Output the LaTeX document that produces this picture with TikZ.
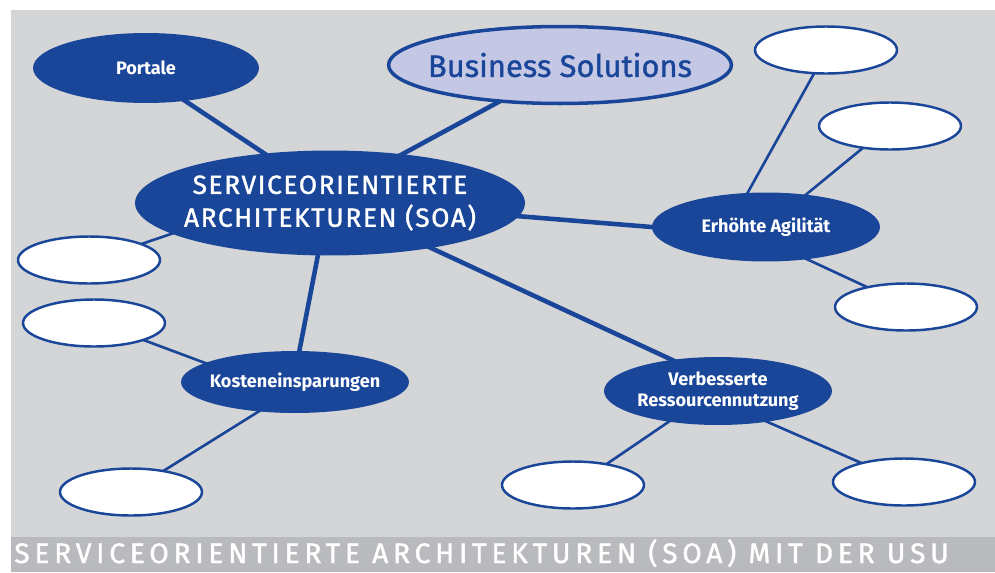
\documentclass[tikz,border=0pt]{standalone}
\usepackage{fontspec}
\setmainfont{Fira Sans}[Ligatures=NoCommon]
\usetikzlibrary{shapes.geometric}

\definecolor{usublue}{RGB}{26,70,153}
\definecolor{usulilac}{RGB}{197,200,228}
\definecolor{usugray}{RGB}{212,213,215}
\definecolor{usubar}{RGB}{185,186,189}

\pgfdeclarelayer{background}
\pgfsetlayers{background,main}

\tikzset{
  topic/.style={ellipse, fill=usublue, text=white, inner xsep=-8pt, inner ysep=0pt, align=center,
    font=\bfseries\fontsize{10.3}{11.6}\selectfont},
  blank/.style={ellipse, draw=usublue, line width=1.4pt, fill=white, inner sep=0pt,
    minimum width=2.84cm, minimum height=0.94cm},
  thickline/.style={usublue, line width=2.6pt, shorten >=-3pt, shorten <=-3pt},
  thinline/.style={usublue, line width=1.5pt, shorten >=-2pt, shorten <=-2pt}
}

\begin{document}
\begin{tikzpicture}[x=0.02cm, y=-0.02cm]
    \useasboundingbox (0,0) rectangle (995,572);

    % Centre and main topics
    \node[topic, minimum width=7.8cm, minimum height=2.1cm,
      font=\addfontfeatures{LetterSpace=6,FakeBold=1.3}\fontsize{15}{18.7}\selectfont] (soa) at (330,203)
      {SERVICEORIENTIERTE\\ARCHITEKTUREN (SOA)};
    \node[topic, draw=usublue, line width=2pt, fill=usulilac, text=usublue,
      minimum width=6.86cm, minimum height=1.54cm,
      font=\addfontfeatures{FakeBold=1.2}\fontsize{17.6}{20}\selectfont] (business) at (560,65) {Business Solutions};
    \node[topic, minimum width=4.52cm, minimum height=1.4cm] (portale) at (146,68) {Portale};
    \node[topic, minimum width=4.56cm, minimum height=1.38cm] (agil) at (766,227) {Erhöhte Agilität};
    \node[topic, minimum width=4.56cm, minimum height=1.24cm] (kosten) at (295,382) {Kosteneinsparungen};
    \node[topic, minimum width=4.56cm, minimum height=1.36cm] (ressourcen) at (718,391)
      {Verbesserte\\Ressourcennutzung};

    % Empty bubbles
    \node[blank] (agilA) at (826,50) {};
    \node[blank] (agilB) at (890,126) {};
    \node[blank] (agilC) at (906,307) {};
    \node[blank] (soaA) at (89,260) {};
    \node[blank] (kostenA) at (94,323) {};
    \node[blank] (kostenB) at (131,492) {};
    \node[blank] (ressA) at (573,485) {};
    \node[blank] (ressB) at (904,482) {};

    \begin{pgfonlayer}{background}
        % Background and bar
        \fill[usugray] (11,10) rectangle (995,537);
        \fill[usubar] (11,537) rectangle (995,572);

        % Connectors
        \draw[thickline] (portale.-40) -- (soa.143);
        \draw[thickline] (business.211) -- (soa.34);
        \draw[thickline] (soa.-4.5) -- (agil.180);
        \draw[thickline] (soa.-103) -- (kosten.82);
        \draw[thickline] (soa.-24) -- (ressourcen.146);
        \draw[thinline] (soaA.17.5) -- (soa.191);
        \draw[thinline] (agil.118) -- (agilA.243);
        \draw[thinline] (agil.39) -- (agilB.219);
        \draw[thinline] (agil.-38) -- (agilC.153);
        \draw[thinline] (kostenA.-19) -- (kosten.168);
        \draw[thinline] (kostenB.33) -- (kosten.219);
        \draw[thinline] (ressourcen.212) -- (ressA.32);
        \draw[thinline] (ressourcen.-32) -- (ressB.156);
    \end{pgfonlayer}

    % Caption
    \node[anchor=base west, inner sep=0pt, text=white,
      font=\addfontfeatures{LetterSpace=17,FakeBold=1.5}\fontsize{16}{18}\selectfont]
      (caption) at (14,563) {SERVICEORIENTIERTE ARCHITEKTUREN (SOA) MIT DER USU};
\end{tikzpicture}
\end{document}
